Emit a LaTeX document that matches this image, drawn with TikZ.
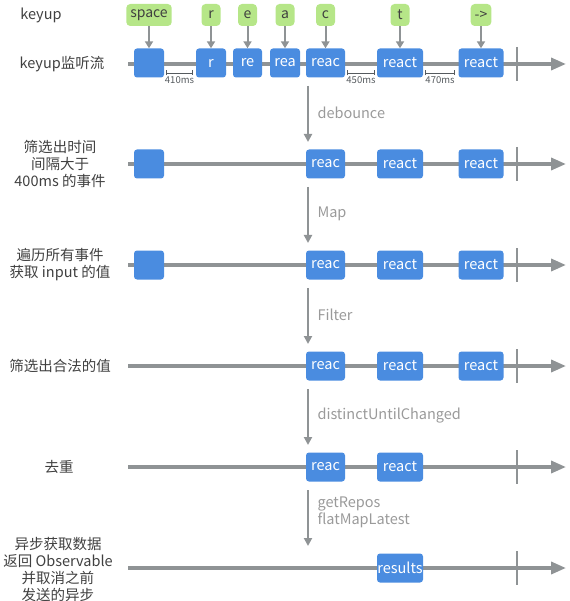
\documentclass[tikz,border=0pt]{standalone}
\usepackage{fontspec}
\setmainfont{Noto Sans CJK SC}
\usetikzlibrary{arrows.meta}
\definecolor{evblue}{HTML}{4A8CE0}
\definecolor{keygreen}{HTML}{B6E688}
\definecolor{tlgray}{HTML}{8F9395}
\definecolor{txt}{HTML}{404040}
\definecolor{optxt}{HTML}{9A9A9A}
\definecolor{durc}{HTML}{555A5E}
\begin{document}
\begin{tikzpicture}[x=1pt,y=-1pt,
  tl/.style={draw=tlgray, line width=3.5pt, -{Triangle[length=15pt,width=12pt]}},
  endtick/.style={draw=tlgray, line width=2.5pt},
  ev/.style={fill=evblue, rounded corners=3pt, text=white, minimum height=29pt, inner sep=0pt, font=\fontsize{14.5}{15}\selectfont},
  key/.style={fill=keygreen, rounded corners=4pt, minimum height=22pt, minimum width=19pt, inner xsep=4pt, inner ysep=0pt, text=txt, font=\fontsize{14}{15}\selectfont},
  lbl/.style={align=center, text=txt, font=\fontsize{14.5}{17}\selectfont},
  op/.style={align=left, anchor=west, text=optxt, font=\fontsize{14.5}{17}\selectfont},
  flow/.style={draw=tlgray, line width=2pt, -{Triangle[length=8pt,width=8pt]}},
  keyarrow/.style={draw=tlgray, line width=2pt, -{Triangle[length=7pt,width=8pt]}},
  dur/.style={draw=durc, line width=0.7pt, {Bar[width=5pt]}-{Bar[width=5pt]}},
  durlbl/.style={text=durc, font=\fontsize{9.5}{10}\selectfont, inner sep=0pt},
]
\useasboundingbox (0,0) rectangle (569,601);

% timelines
\foreach \i/\y in {1/64,2/164,3/265,4/366,5/467,6/568}{
  \coordinate (s\i) at (128,\y);
  \coordinate (e\i) at (566,\y);
  \coordinate (ta\i) at (517,\y-17);
  \coordinate (tb\i) at (517,\y+17);
  \draw[tl] (s\i) -- (e\i);
  \draw[endtick] (ta\i) -- (tb\i);
}

% left labels
\node[lbl] (l0) at (41,15) {keyup};
\node[lbl] (l1) at (62,64) {keyup监听流};
\node[lbl] (l2) at (60,164) {筛选出时间\\间隔大于\\400ms 的事件};
\node[lbl] (l3) at (60,265) {遍历所有事件\\获取 input 的值};
\node[lbl] (l4) at (60,366) {筛选出合法的值};
\node[lbl] (l5) at (59,467) {去重};
\node[lbl] (l6) at (58,569) {异步获取数据\\返回 Observable\\并取消之前\\发送的异步};

% row 1
\node[ev, minimum width=30pt] (b1) at (149,63) {};
\node[ev, minimum width=30pt] (r1) at (211,63) {r};
\node[ev, minimum width=29pt] (re1) at (247.5,63) {re};
\node[ev, minimum width=30pt] (rea1) at (285,63) {rea};
\node[ev, minimum width=39pt] (reac1) at (325.5,63) {reac};
\node[ev, minimum width=46pt] (react1a) at (400,63) {react};
\node[ev, minimum width=45pt] (react1b) at (481,63) {react};

% keys
\node[key] (kspace) at (149,15) {space};
\node[key] (kr) at (211,15) {r};
\node[key] (ke) at (247.5,15) {e};
\node[key] (ka) at (285,15) {a};
\node[key] (kc) at (325.5,15) {c};
\node[key] (kt) at (400,15) {t};
\node[key] (karr) at (481,15) {->};
\draw[keyarrow] (kspace) -- (b1);
\draw[keyarrow] (kr) -- (r1);
\draw[keyarrow] (ke) -- (re1);
\draw[keyarrow] (ka) -- (rea1);
\draw[keyarrow] (kc) -- (reac1);
\draw[keyarrow] (kt) -- (react1a);
\draw[keyarrow] (karr) -- (react1b);

% durations
\coordinate (d1a) at (166,73); \coordinate (d1b) at (193,73);
\coordinate (d2a) at (347,73); \coordinate (d2b) at (375,73);
\coordinate (d3a) at (425,73); \coordinate (d3b) at (455,73);
\draw[dur] (d1a) -- (d1b);
\draw[dur] (d2a) -- (d2b);
\draw[dur] (d3a) -- (d3b);
\node[durlbl] (dl1) at (179.5,80) {410ms};
\node[durlbl] (dl2) at (361,80) {450ms};
\node[durlbl] (dl3) at (440,80) {470ms};

% row 2
\node[ev, minimum width=30pt] (b2) at (149,164) {};
\node[ev, minimum width=39pt] (reac2) at (325.5,164) {reac};
\node[ev, minimum width=46pt] (react2a) at (400,164) {react};
\node[ev, minimum width=45pt] (react2b) at (481,164) {react};
% row 3
\node[ev, minimum width=30pt] (b3) at (149,265) {};
\node[ev, minimum width=39pt] (reac3) at (325.5,265) {reac};
\node[ev, minimum width=46pt] (react3a) at (400,265) {react};
\node[ev, minimum width=45pt] (react3b) at (481,265) {react};
% row 4
\node[ev, minimum width=39pt] (reac4) at (325.5,366) {reac};
\node[ev, minimum width=46pt] (react4a) at (400,366) {react};
\node[ev, minimum width=45pt] (react4b) at (481,366) {react};
% row 5
\node[ev, minimum width=39pt] (reac5) at (325.5,467) {reac};
\node[ev, minimum width=46pt] (react5a) at (400,467) {react};
% row 6
\node[ev, minimum width=46pt] (res6) at (400,568) {results};

% operator arrows
\foreach \i/\ya/\yb in {1/86/142,2/187/243,3/288/344,4/389/445,5/490/546}{
  \coordinate (fa\i) at (308,\ya);
  \coordinate (fb\i) at (308,\yb);
  \draw[flow] (fa\i) -- (fb\i);
}
\node[op] (o1) at (314,113) {debounce};
\node[op] (o2) at (314,214) {Map};
\node[op] (o3) at (314,315) {Filter};
\node[op] (o4) at (314,416) {distinctUntilChanged};
\node[op] (o5) at (314,512.5) {getRepos\\flatMapLatest};
\end{tikzpicture}
\end{document}
